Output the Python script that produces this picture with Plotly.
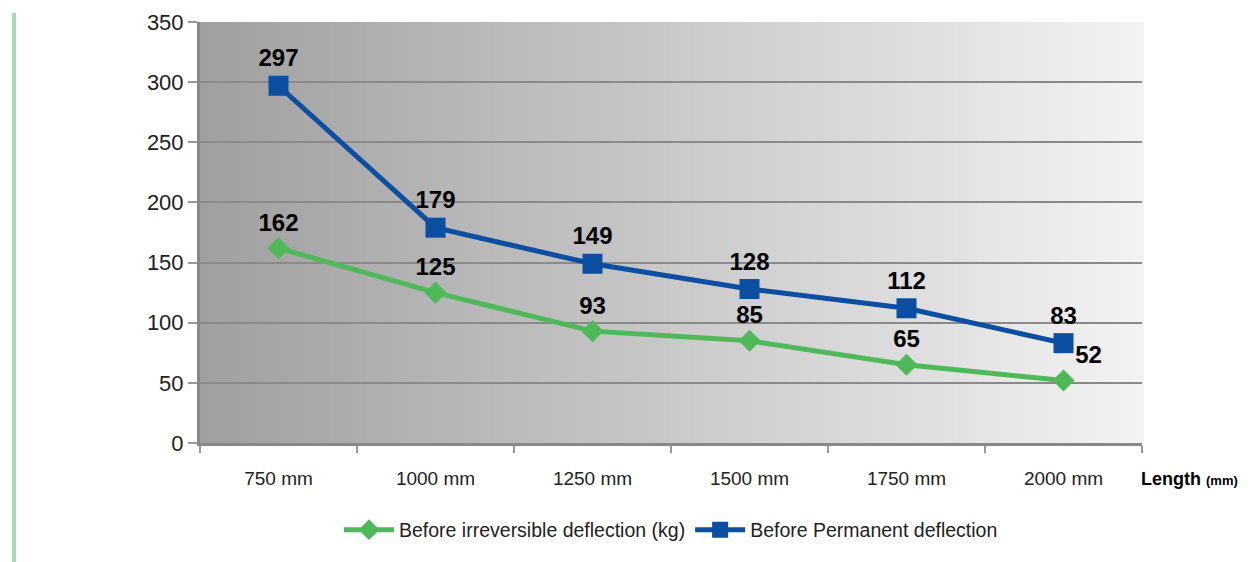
import plotly.graph_objects as go

categories = ["750 mm", "1000 mm", "1250 mm", "1500 mm", "1750 mm", "2000 mm"]
irreversible = [162, 125, 93, 85, 65, 52]
permanent = [297, 179, 149, 128, 112, 83]
series_names = ["Before irreversible deflection (kg)", "Before Permanent deflection"]
y_ticks = [0, 50, 100, 150, 200, 250, 300, 350]

GREEN = "#4fb95a"
BLUE = "#0b4ea2"

# page body has an 8px margin; figure is sized so the plot lands where the reference has it
OFF = 8
W, H = 1252 - OFF, 562 - OFF
PL, PR, PT, PB = 200, 1142, 22, 443  # screen pixels of plot area

fig = go.Figure()
fig.add_trace(go.Scatter(
    x=categories, y=irreversible, name=series_names[0], mode="lines+markers+text",
    line=dict(color=GREEN, width=5), marker=dict(symbol="diamond", size=17, color=GREEN),
    text=[str(v) for v in irreversible],
    textposition=["top center"] * 5 + ["top right"],
    textfont=dict(family="Liberation Sans", size=24, color="black", weight="bold"),
))
fig.add_trace(go.Scatter(
    x=categories, y=permanent, name=series_names[1], mode="lines+markers+text",
    line=dict(color=BLUE, width=5), marker=dict(symbol="square", size=20, color=BLUE),
    text=[str(v) for v in permanent], textposition="top center",
    textfont=dict(family="Liberation Sans", size=24, color="black", weight="bold"),
))

pw, ph = PR - PL, PB - PT

# gradient background
shapes = []
n = 80
c0, c1 = 0xa0, 0xf2
for i in range(n):
    t = i / (n - 1)
    c = int(round(c0 + (c1 - c0) * t))
    col = f"rgb({c},{c},{c})"
    shapes.append(dict(type="rect", xref="x domain", yref="y domain",
                       x0=i / n, x1=(i + 1) / n + 0.002, y0=0, y1=1,
                       fillcolor=col, line=dict(width=0), layer="below"))
# green side bar
shapes.append(dict(type="rect", xref="paper", yref="paper",
                   x0=(12 - PL) / pw, x1=(16 - PL) / pw,
                   y0=(PB - 562) / ph, y1=(PB - 13) / ph,
                   fillcolor="#a8dcb0", line=dict(width=0)))

fig.update_layout(
    width=W, height=H,
    margin=dict(l=PL - OFF, r=W - (PR - OFF), t=PT - OFF, b=H - (PB - OFF), autoexpand=False),
    paper_bgcolor="white", plot_bgcolor="rgba(0,0,0,0)",
    shapes=shapes,
    showlegend=True,
    legend=dict(orientation="h", x=0.5, xanchor="center", y=(PB - 530) / ph, yanchor="middle",
                itemwidth=50,
                font=dict(family="Liberation Sans", size=19.5, color="#222")),
    annotations=[dict(text="<b>Length</b> <b><span style='font-size:13px'>(mm)</span></b>",
                      xref="paper", yref="paper", x=(1139 - PL) / pw, y=(PB - 479) / ph,
                      xanchor="left", yanchor="middle", showarrow=False,
                      font=dict(family="Liberation Sans", size=18, color="black"))],
)
fig.update_xaxes(
    type="category", range=[-0.5, 5.5], tickson="boundaries",
    ticks="outside", ticklen=7, tickcolor="#999", tickwidth=2, ticklabelstandoff=16,
    showline=True, linecolor="#888", linewidth=3, showgrid=False,
    tickfont=dict(family="Liberation Sans", size=19, color="#222"),
)
fig.update_yaxes(
    range=[0, 350], tickvals=y_ticks, ticks="outside", ticklen=9, tickcolor="#999", tickwidth=2,
    showline=True, linecolor="#888", linewidth=3,
    showgrid=True, gridcolor="#8a8a8a", gridwidth=1.5, zeroline=False,
    tickfont=dict(family="Liberation Sans", size=22, color="#222"),
)

fig.write_html("out.html")
